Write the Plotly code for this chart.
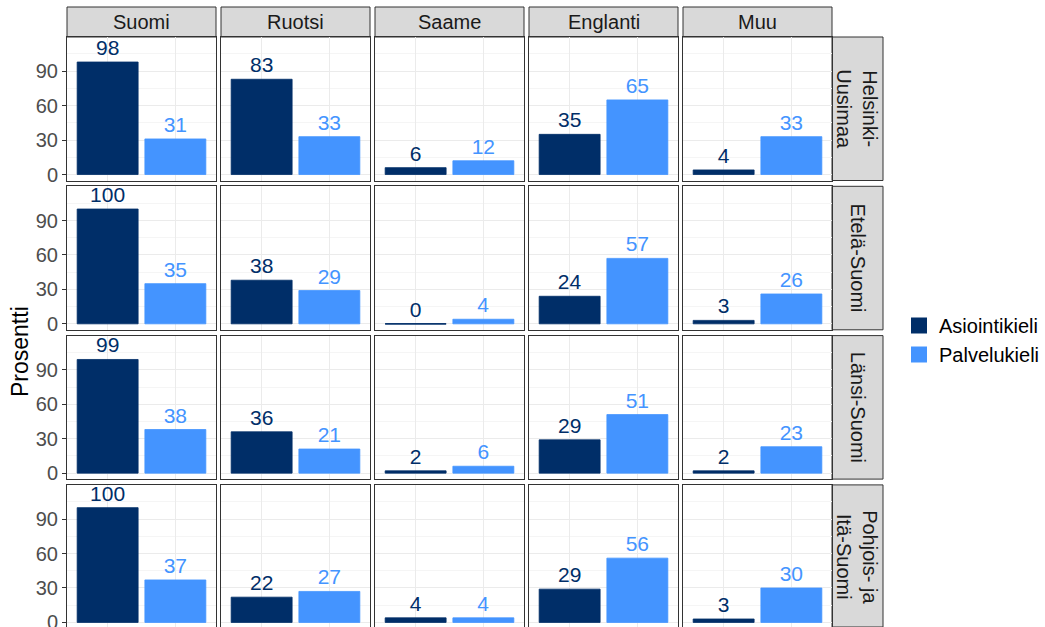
import plotly.graph_objects as go

regions = ["Helsinki-<br>Uusimaa", "Etelä-Suomi", "Länsi-Suomi", "Pohjois- ja<br>Itä-Suomi"]
languages = ["Suomi", "Ruotsi", "Saame", "Englanti", "Muu"]
series = ["Asiointikieli", "Palvelukieli"]

# values[region][language] per series
asiointi = [
    [98, 83, 6, 35, 4],
    [100, 38, 0, 24, 3],
    [99, 36, 2, 29, 2],
    [100, 22, 4, 29, 3],
]
palvelu = [
    [31, 33, 12, 65, 33],
    [35, 29, 4, 57, 26],
    [38, 21, 6, 51, 23],
    [37, 27, 4, 56, 30],
]
y_ticks = [0, 30, 60, 90]

colors = {"Asiointikieli": "#002E68", "Palvelukieli": "#4494FF"}
FONT = "Liberation Sans, Arial, sans-serif"

W, H = 1045, 627
col_left0, col_w, col_pitch = 67, 149, 154
row_top0, row_h, row_pitch = 37, 143.5, 149.3
strip_h = 30
rstrip_w = 51
px_per_unit = 143.5 / 125.0
yr = [-5.2, 119.8]

def px2x(p):
    return p / W

def px2y(p):
    return 1 - p / H

fig = go.Figure()
shapes = []
annotations = []

for r in range(4):
    for c in range(5):
        idx = r * 5 + c + 1
        xa = "x" if idx == 1 else f"x{idx}"
        ya = "y" if idx == 1 else f"y{idx}"
        xl = "xaxis" if idx == 1 else f"xaxis{idx}"
        yl = "yaxis" if idx == 1 else f"yaxis{idx}"
        x0 = col_left0 + c * col_pitch
        x1 = x0 + col_w
        t = row_top0 + r * row_pitch
        b = t + row_h
        rng = list(yr)
        if b > H:
            rng[0] = yr[0] + (b - H) / px_per_unit
            b = H
        vals = [asiointi[r][c], palvelu[r][c]]
        for s, v in zip(series, vals):
            fig.add_trace(go.Bar(
                x=[s], y=[v], name=s, xaxis=xa, yaxis=ya,
                marker=dict(color=colors[s], line=dict(color=colors[s], width=0.8)),
                width=0.9,
                text=[str(v)], textposition="outside",
                textfont=dict(color=colors[s], size=21, family=FONT),
                constraintext="none",
                showlegend=False, legendgroup=s,
                hoverinfo="x+y",
            ))
            if v == 0:
                i = series.index(s)
                shapes.append(dict(type="line", xref=xa, yref=ya,
                                   x0=i - 0.45, x1=i + 0.45, y0=0, y1=0,
                                   line=dict(color=colors[s], width=1.2)))
        fig.layout[xl] = dict(
            domain=[px2x(x0), px2x(x1)], anchor=ya,
            type="category", categoryorder="array", categoryarray=series,
            range=[-0.6, 1.6], showticklabels=False, ticks="",
            showgrid=True, gridcolor="#EBEBEB", gridwidth=1,
            showline=True, mirror=True, linecolor="#333333", linewidth=1,
            zeroline=False, fixedrange=True, automargin=False,
        )
        fig.layout[yl] = dict(
            domain=[px2y(b), px2y(t)], anchor=xa, range=rng,
            tickvals=y_ticks, ticktext=[str(v) for v in y_ticks],
            showticklabels=(c == 0), ticklabeloverflow="allow",
            ticks="outside" if c == 0 else "", ticklen=4, tickcolor="#333333",
            tickfont=dict(size=20, color="#4D4D4D", family=FONT),
            showgrid=True, gridcolor="#EBEBEB", gridwidth=1.1,
            minor=dict(dtick=15, tick0=15, showgrid=True, gridcolor="#F5F5F5", gridwidth=0.6, ticks=""),
            showline=True, mirror=True, linecolor="#333333", linewidth=1,
            zeroline=False, fixedrange=True, automargin=False,
        )
        if r == 0:
            shapes.append(dict(type="rect", xref="paper", yref="paper",
                               x0=px2x(x0), x1=px2x(x1),
                               y0=px2y(t), y1=px2y(t - strip_h),
                               fillcolor="#D9D9D9", line=dict(color="#333333", width=1), layer="below"))
            annotations.append(dict(text=languages[c], xref="paper", yref="paper",
                                    x=px2x((x0 + x1) / 2), y=px2y(t - strip_h / 2),
                                    showarrow=False, font=dict(size=20, color="#1A1A1A", family=FONT),
                                    xanchor="center", yanchor="middle"))
        if c == 4:
            shapes.append(dict(type="rect", xref="paper", yref="paper",
                               x0=px2x(x1), x1=px2x(x1 + rstrip_w),
                               y0=px2y(b), y1=px2y(t),
                               fillcolor="#D9D9D9", line=dict(color="#333333", width=1), layer="below"))
            annotations.append(dict(text=regions[r], xref="paper", yref="paper",
                                    x=px2x(x1 + rstrip_w / 2), y=px2y(t + row_h / 2),
                                    showarrow=False, textangle=90,
                                    font=dict(size=20, color="#1A1A1A", family=FONT),
                                    xanchor="center", yanchor="middle"))

# legend entries (larger square keys)
for s in series:
    fig.add_trace(go.Scatter(
        x=[None], y=[None], mode="markers", name=s, legendgroup=s,
        marker=dict(symbol="square", size=16, color=colors[s]),
        xaxis="x", yaxis="y", showlegend=True, hoverinfo="skip",
    ))

annotations.append(dict(text="Prosentti", xref="paper", yref="paper",
                        x=px2x(20), y=px2y(352), showarrow=False, textangle=-90,
                        font=dict(size=23, color="#000000", family=FONT),
                        xanchor="center", yanchor="middle"))

fig.update_layout(
    width=W, height=H,
    margin=dict(l=0, r=0, t=0, b=0, autoexpand=False),
    paper_bgcolor="white", plot_bgcolor="white",
    barmode="group",
    shapes=shapes, annotations=annotations,
    font=dict(family=FONT),
    legend=dict(x=px2x(899), y=px2y(340), xanchor="left", yanchor="middle",
                font=dict(size=20, color="#000000", family=FONT),
                bgcolor="rgba(0,0,0,0)", tracegroupgap=0, itemsizing="trace"),
    showlegend=True,
)

fig.write_html("out.html", config={"displayModeBar": False},
               post_script="document.body.style.margin='0';document.body.style.overflow='hidden';")
